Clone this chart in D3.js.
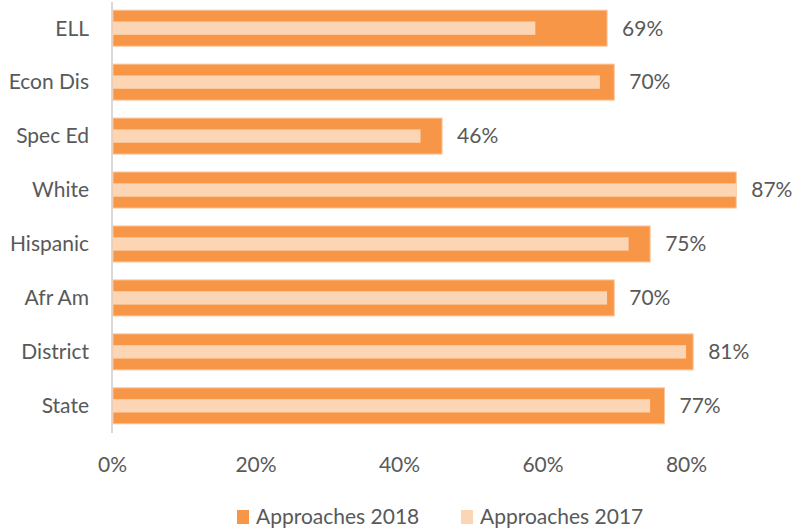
<!DOCTYPE html>
<html>
<head>
<meta charset="utf-8">
<script src="https://cdn.jsdelivr.net/npm/d3@7"></script>
<style>
  body { margin: 0; background: #fff; }
  text { font-family: Lato, "Open Sans", sans-serif; fill: #595959; }
</style>
</head>
<body>
<svg id="chart" width="796" height="530"></svg>
<script>
const categories = ["ELL", "Econ Dis", "Spec Ed", "White", "Hispanic", "Afr Am", "District", "State"];
const approaches2018 = [0.69, 0.70, 0.46, 0.87, 0.75, 0.70, 0.81, 0.77];
const approaches2017 = [0.59, 0.68, 0.43, 0.87, 0.72, 0.69, 0.80, 0.75];
const tickValues = [0, 0.2, 0.4, 0.6, 0.8];
const seriesNames = ["Approaches 2018", "Approaches 2017"];

const colors = { y2018: "#F79646", y2017: "#FCD5B5" };
const fontSize = "21px";

const svg = d3.select("#chart");
const plotLeft = 112, plotTop = 1, plotH = 432;

const x = d3.scaleLinear().domain([0, 0.8]).range([plotLeft, 686]);
const y = d3.scaleBand().domain(categories).range([plotTop, plotTop + plotH]).paddingInner(0.333).paddingOuter(0.17);

// vertical axis line
svg.append("line")
  .attr("x1", plotLeft).attr("x2", plotLeft)
  .attr("y1", 2).attr("y2", 433)
  .attr("stroke", "#D9D9D9").attr("stroke-width", 2);

const data = categories.map((c, i) => ({ cat: c, v18: approaches2018[i], v17: approaches2017[i] }));

// 2018 outer bars
svg.selectAll(".bar18")
  .data(data)
  .join("rect")
  .attr("class", "bar18")
  .attr("x", x(0) + 1)
  .attr("y", d => y(d.cat))
  .attr("width", d => x(d.v18) - x(0) - 1)
  .attr("height", y.bandwidth())
  .attr("fill", colors.y2018)
  .attr("stroke", "#FAC59A")
  .attr("stroke-width", 1);

// 2017 inner bars
const innerH = y.bandwidth() * 0.37;
svg.selectAll(".bar17")
  .data(data)
  .join("rect")
  .attr("class", "bar17")
  .attr("x", x(0) + 1)
  .attr("y", d => y(d.cat) + (y.bandwidth() - innerH) / 2)
  .attr("width", d => x(d.v17) - x(0) - 1)
  .attr("height", innerH)
  .attr("fill", colors.y2017);

// value labels
svg.selectAll(".val")
  .data(data)
  .join("text")
  .attr("class", "val")
  .attr("x", d => x(d.v18) + 15)
  .attr("y", d => y(d.cat) + y.bandwidth() / 2)
  .attr("dy", "0.35em")
  .style("font-size", fontSize)
  .text(d => d3.format(".0%")(d.v18));

// category labels
svg.selectAll(".cat")
  .data(categories)
  .join("text")
  .attr("class", "cat")
  .attr("x", 89)
  .attr("y", d => y(d) + y.bandwidth() / 2)
  .attr("dy", "0.35em")
  .attr("text-anchor", "end")
  .style("font-size", fontSize)
  .text(d => d);

// x axis tick labels
const xAxis = svg.append("g")
  .attr("transform", "translate(0,454)")
  .call(d3.axisBottom(x).tickValues(tickValues).tickFormat(d3.format(".0%")).tickSize(0));
xAxis.select(".domain").remove();
xAxis.selectAll("text")
  .style("font-size", fontSize)
  .style("font-family", "Lato, sans-serif")
  .attr("fill", "#595959");

// legend
const legend = svg.append("g");
const legendX = [237, 461];
seriesNames.forEach((name, i) => {
  const g = legend.append("g").attr("transform", `translate(${legendX[i]},510)`);
  g.append("rect").attr("width", 12).attr("height", 14)
    .attr("fill", i === 0 ? colors.y2018 : colors.y2017);
  g.append("text").attr("x", 19).attr("y", 7).attr("dy", "0.35em")
    .style("font-size", fontSize).text(name);
});
</script>
</body>
</html>
